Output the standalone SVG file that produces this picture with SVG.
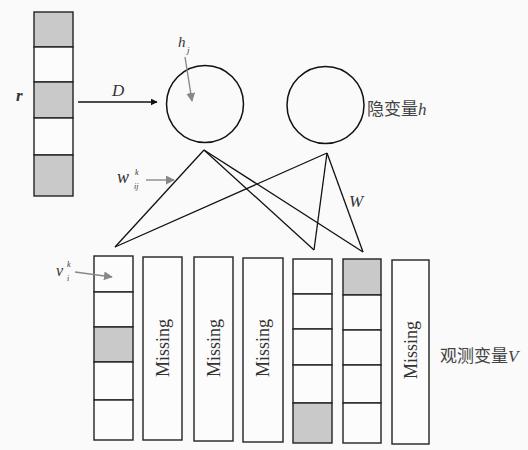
<svg xmlns="http://www.w3.org/2000/svg" width="528" height="450" viewBox="0 0 528 450">
<defs>
<style>
.cell{fill:#fcfcfc;stroke:#222;stroke-width:1.4}
.gray{fill:#c9c9c9;stroke:#222;stroke-width:1.4}
.node{fill:none;stroke:#111;stroke-width:1.5}
.edge{stroke:#111;stroke-width:1.3;fill:none}
.ptr{stroke:#888;stroke-width:1.4;fill:none}
.it{font-family:"Liberation Serif",serif;font-style:italic;fill:#333}
.miss{font-family:"Liberation Serif",serif;font-size:18px;fill:#333;text-anchor:middle}
.cjk{font-family:"Liberation Serif","Noto Sans CJK SC",serif;font-size:17px;fill:#444}
</style>
<marker id="blk" viewBox="0 0 10 10" refX="9" refY="5" markerWidth="7" markerHeight="7" orient="auto" markerUnits="userSpaceOnUse">
<path d="M0,0 L10,5 L0,10 z" fill="#111"/>
</marker>
<marker id="gry" viewBox="0 0 10 10" refX="9" refY="5" markerWidth="9" markerHeight="9" orient="auto" markerUnits="userSpaceOnUse">
<path d="M0,0 L10,5 L0,10 z" fill="#888"/>
</marker>
</defs>
<rect width="528" height="450" fill="#fafafa"/>

<g id="r-vector">
<rect class="gray" x="34" y="12" width="39" height="35"/>
<rect class="cell" x="34" y="47" width="39" height="35"/>
<rect class="gray" x="34" y="82" width="39" height="36"/>
<rect class="cell" x="34" y="118" width="39" height="37"/>
<rect class="gray" x="34" y="155" width="39" height="41"/>
<text class="it" x="16" y="101" font-size="17" font-weight="bold" fill="#111">r</text>
</g>

<g id="hidden-1">
<circle class="node" cx="205" cy="104" r="38.5"/>
<text class="it" x="178" y="47" font-size="15">h</text>
<text class="it" x="187" y="53" font-size="9">j</text>
</g>

<g id="hidden-2">
<circle class="node" cx="325.5" cy="105" r="38.5"/>
<text class="cjk" x="367" y="115">隐变量<tspan font-style="italic">h</tspan></text>
</g>

<g id="v1">
<rect class="cell" x="94" y="256" width="39" height="36"/>
<rect class="cell" x="94" y="292" width="39" height="35"/>
<rect class="gray" x="94" y="327" width="39" height="35"/>
<rect class="cell" x="94" y="362" width="39" height="38"/>
<rect class="cell" x="94" y="400" width="39" height="40"/>
</g>
<g id="v2">
<rect class="cell" x="143" y="257" width="39" height="183"/>
<text class="miss" transform="translate(162.5,348) rotate(-90)" y="6">Missing</text>
</g>
<g id="v3">
<rect class="cell" x="194" y="257" width="39" height="184"/>
<text class="miss" transform="translate(213.5,348) rotate(-90)" y="6">Missing</text>
</g>
<g id="v4">
<rect class="cell" x="243" y="258" width="40" height="184"/>
<text class="miss" transform="translate(263,348) rotate(-90)" y="6">Missing</text>
</g>
<g id="v5">
<rect class="cell" x="293" y="259" width="39" height="35"/>
<rect class="cell" x="293" y="294" width="39" height="35"/>
<rect class="cell" x="293" y="329" width="39" height="36"/>
<rect class="cell" x="293" y="365" width="39" height="38"/>
<rect class="gray" x="293" y="403" width="39" height="40"/>
</g>
<g id="v6">
<rect class="gray" x="343" y="259" width="38" height="36"/>
<rect class="cell" x="343" y="295" width="38" height="35"/>
<rect class="cell" x="343" y="330" width="38" height="35"/>
<rect class="cell" x="343" y="365" width="38" height="38"/>
<rect class="cell" x="343" y="403" width="38" height="40"/>
</g>
<g id="v7">
<rect class="cell" x="392" y="260" width="37" height="184"/>
<text class="miss" transform="translate(410.5,350) rotate(-90)" y="6">Missing</text>
<text class="cjk" x="440" y="362">观测变量<tspan font-style="italic">V</tspan></text>
</g>

<g id="connectors">
<line x1="78" y1="102" x2="157" y2="102" stroke="#111" stroke-width="1.4" marker-end="url(#blk)"/>
<text class="it" x="112" y="96" font-size="17">D</text>
<line class="edge" x1="204" y1="150" x2="115" y2="247"/>
<line class="edge" x1="204" y1="150" x2="314" y2="250"/>
<line class="edge" x1="204" y1="150" x2="363" y2="252"/>
<line class="edge" x1="327" y1="153" x2="115" y2="247"/>
<line class="edge" x1="327" y1="153" x2="314" y2="250"/>
<line class="edge" x1="327" y1="153" x2="363" y2="252"/>
<text class="it" x="349" y="207" font-size="17">W</text>
<line class="ptr" x1="185" y1="57" x2="192" y2="101" marker-end="url(#gry)"/>
<line class="ptr" x1="146" y1="180" x2="174" y2="180" marker-end="url(#gry)"/>
<text class="it" x="117" y="183" font-size="18">w</text>
<text class="it" x="135" y="175" font-size="8">k</text>
<text class="it" x="134" y="189" font-size="8">ij</text>
<line class="ptr" x1="75" y1="272" x2="112" y2="277" marker-end="url(#gry)"/>
<text class="it" x="56" y="276" font-size="16">v</text>
<text class="it" x="67" y="267" font-size="8">k</text>
<text class="it" x="67" y="281" font-size="8">i</text>
</g>
</svg>
